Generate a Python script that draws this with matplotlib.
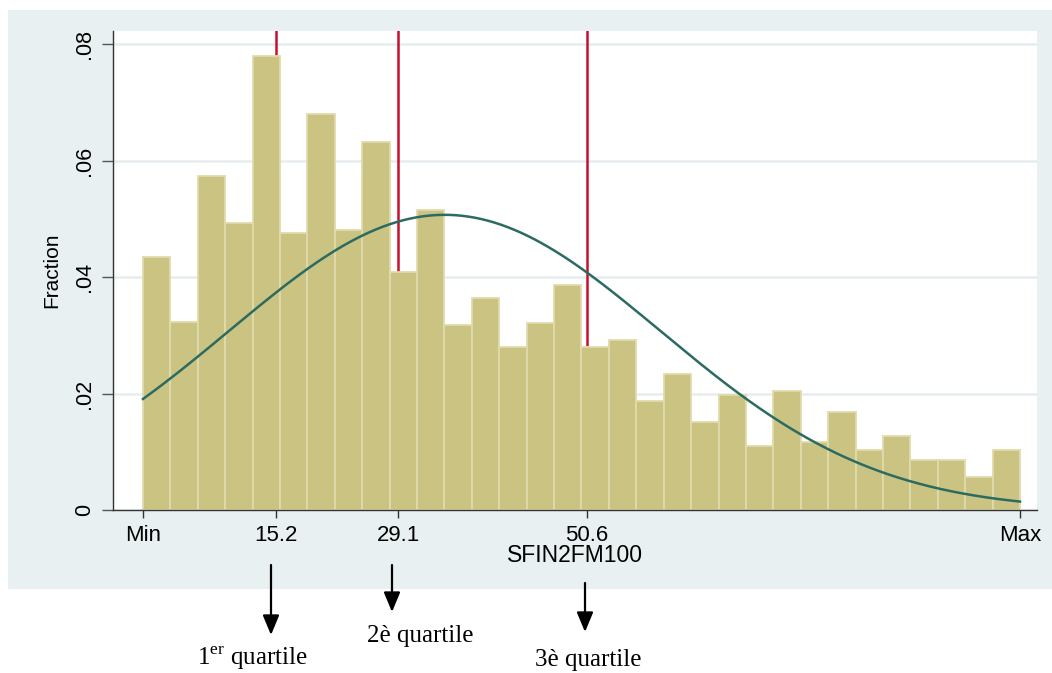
import numpy as np
import matplotlib
matplotlib.use("Agg")
import matplotlib.pyplot as plt
from matplotlib.patches import Rectangle

plt.rcParams['mathtext.fontset'] = 'custom'
plt.rcParams['mathtext.rm'] = 'Liberation Serif'

# ---- data (x scaled so that Min = 0 and Max = 100) ----
x_min, x_max = 0.0, 100.0
fractions = [0.0434, 0.0322, 0.0573, 0.0493, 0.0779, 0.0476, 0.0680, 0.0481,
             0.0632, 0.0409, 0.0515, 0.0318, 0.0364, 0.0280, 0.0321, 0.0386,
             0.0280, 0.0292, 0.0187, 0.0234, 0.0151, 0.0197, 0.0110, 0.0204,
             0.0117, 0.0168, 0.0103, 0.0127, 0.0086, 0.0086, 0.0057, 0.0103]
quartiles = [15.2, 29.1, 50.6]
x_tick_values = [0.0, 15.2, 29.1, 50.6, 100.0]
x_tick_labels = ["Min", "15.2", "29.1", "50.6", "Max"]
y_tick_values = [0, 0.02, 0.04, 0.06, 0.08]
y_tick_labels = ["0", ".02", ".04", ".06", ".08"]
normal_mean, normal_sd = 34.4, 24.6
quartile_texts = [r"1$^{\mathrm{er}}$ quartile", "2è quartile", "3è quartile"]

n_bins = len(fractions)
width = (x_max - x_min) / n_bins
edges = x_min + width * np.arange(n_bins)

W, H = 1052, 673
fig = plt.figure(figsize=(W / 100, H / 100), dpi=100)
fig.patch.set_facecolor("white")

# outer Stata-like panel
fig.add_artist(Rectangle((8 / W, (H - 589) / H), 1 - 8 / W, (589 - 10) / H,
                         transform=fig.transFigure, facecolor="#E8F0F2",
                         edgecolor="none", zorder=0))

ax = fig.add_axes([113 / W, (H - 510) / H, (1037 - 113) / W, (510 - 31) / H])
ax.set_facecolor("white")
ax.set_zorder(1)

ax.bar(edges, fractions, width=width, align="edge", color="#CBC381",
       edgecolor="#E0DBAC", linewidth=1.3, zorder=2)

for q in quartiles:
    ax.axvline(q, color="#C8102E", lw=1.8, zorder=1)

xs = np.linspace(x_min, x_max, 400)
ys = width * np.exp(-0.5 * ((xs - normal_mean) / normal_sd) ** 2) / (normal_sd * np.sqrt(2 * np.pi))
ax.plot(xs, ys, color="#2B6B62", lw=1.8, zorder=3)

ax.set_xlim(-3.42, 101.94)
ax.set_ylim(0, 0.08224)

ax.set_yticks(y_tick_values)
ax.set_yticklabels(y_tick_labels, rotation=90, va="center", fontsize=15.5,
                   family="Liberation Sans")
ax.set_xticks(x_tick_values)
ax.set_xticklabels(x_tick_labels, fontsize=16, family="Liberation Sans")
ax.tick_params(axis="y", length=8, width=1, color="#555555", pad=5)
ax.tick_params(axis="x", length=5.5, width=1, color="#333333", pad=5)

ax.yaxis.grid(True, color="#E6EDF0", lw=1.8, zorder=0)
ax.set_axisbelow(True)

for s in ["top", "right"]:
    ax.spines[s].set_visible(False)
for s in ["left", "bottom"]:
    ax.spines[s].set_color("#333333")
    ax.spines[s].set_linewidth(1.0)

ax.set_ylabel("Fraction", fontsize=15, family="Liberation Sans", labelpad=9)
ax.set_xlabel("SFIN2FM100", fontsize=16.5, family="Liberation Sans", labelpad=-1)

# quartile arrows and captions below the chart (figure pixel coordinates, y from top)
arrow_specs = [(271, 565, 635), (392, 565, 612), (585, 583, 632)]
text_specs = [(252, 658), (420, 636), (588, 660)]
for (ax_x, y0, y1) in arrow_specs:
    ax.annotate("", xy=(ax_x, H - y1), xytext=(ax_x, H - y0),
                xycoords="figure pixels", textcoords="figure pixels",
                annotation_clip=False,
                arrowprops=dict(arrowstyle="-|>,head_length=0.6,head_width=0.25",
                                color="black", lw=1.6, mutation_scale=20,
                                shrinkA=0, shrinkB=0))
for (tx, ty), label in zip(text_specs, quartile_texts):
    fig.text(tx / W, (H - ty) / H, label, ha="center", va="center",
             fontsize=18, family="Liberation Serif", color="black")

fig.savefig("out.png", dpi=100)
